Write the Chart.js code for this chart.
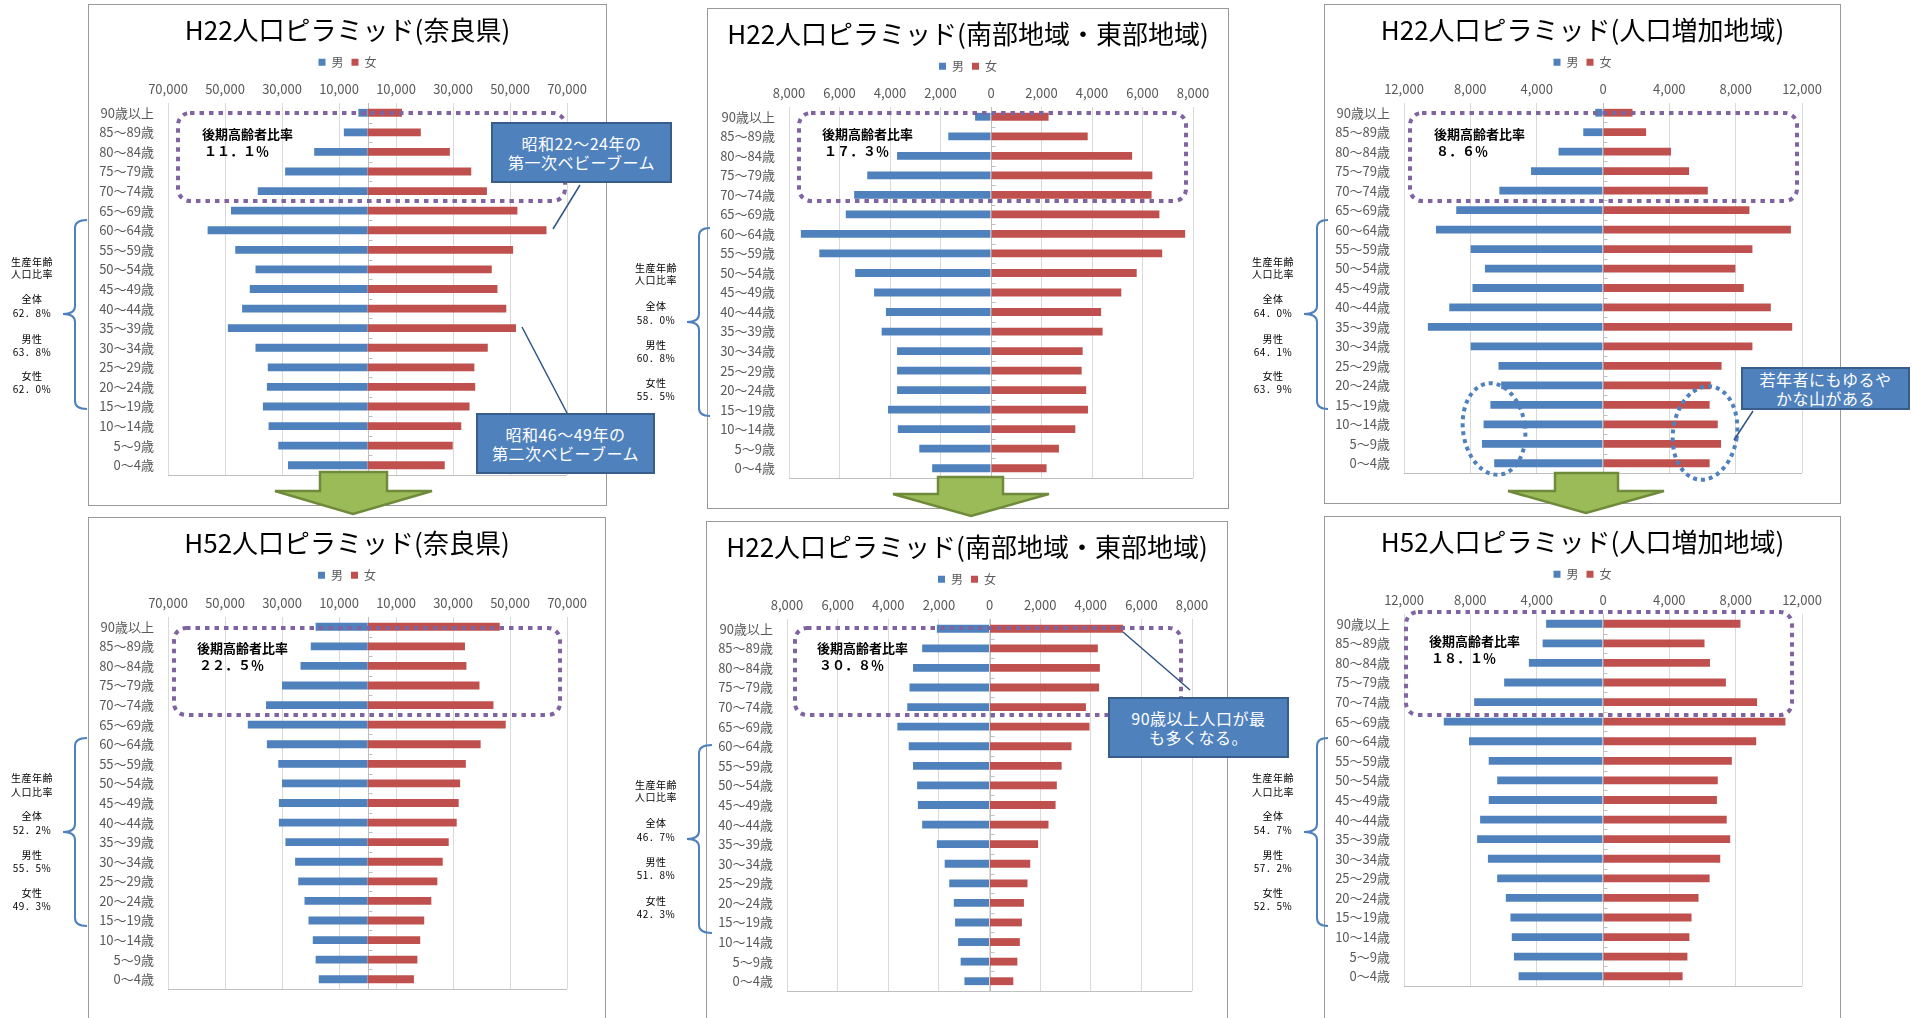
<!DOCTYPE html>
<html>
<head>
<meta charset="utf-8">
<script src="https://cdn.jsdelivr.net/npm/chart.js@4.4.0/dist/chart.umd.min.js"></script>
<style>
  body { margin: 0; width: 1912px; height: 1018px; overflow: hidden; position: relative; background: #fff;
         font-family: "Noto Sans CJK JP", "Noto Sans", sans-serif; }
  .panel { position: absolute; border: 1px solid #9a9a9a; box-sizing: border-box; background: #fff; z-index: 1; }
  .panel canvas { position: absolute; left: 0; top: 0; }
  svg.over { position: absolute; left: 0; top: 0; z-index: 2; }
  .side { position: absolute; transform: translate(-50%, -50%); font-size: 10px; line-height: 12px;
          white-space: nowrap; color: #000; z-index: 3; letter-spacing: 0.5px; }
  .ratio { position: absolute; transform: translateY(-50%); font-size: 13px; font-weight: bold;
           line-height: 16px; white-space: nowrap; color: #000; z-index: 3; }
  .callout { position: absolute; box-sizing: border-box; background: #4f81bd; border: 2px solid #385d8a;
             color: #fff; font-size: 16px; line-height: 19px; text-align: center; z-index: 4;
             display: flex; align-items: center; justify-content: center; letter-spacing: 0.5px; }
</style>
</head>
<body>

<div class="panel" style="left:88px;top:4px;width:519px;height:502px"><canvas id="c1" width="517" height="498"></canvas></div>
<div class="panel" style="left:707px;top:8px;width:522px;height:501px"><canvas id="c2" width="520" height="498"></canvas></div>
<div class="panel" style="left:1324px;top:4px;width:517px;height:500px"><canvas id="c3" width="515" height="498"></canvas></div>
<div class="panel" style="left:88px;top:517px;width:518px;height:530px"><canvas id="c4" width="516" height="498"></canvas></div>
<div class="panel" style="left:706px;top:521px;width:522px;height:530px"><canvas id="c5" width="520" height="498"></canvas></div>
<div class="panel" style="left:1324px;top:516px;width:517px;height:530px"><canvas id="c6" width="515" height="498"></canvas></div>

<svg class="over" width="1912" height="1018">
  <g fill="none" stroke="#8064a2" stroke-width="4" stroke-dasharray="4.5 5">
    <rect x="178" y="113" width="387" height="88" rx="12"/>
    <rect x="799" y="113" width="387" height="88" rx="12"/>
    <rect x="1410" y="113" width="387" height="88" rx="12"/>
    <rect x="174" y="628" width="386" height="87" rx="12"/>
    <rect x="795" y="628" width="386" height="87" rx="12"/>
    <rect x="1406" y="612" width="386" height="103" rx="12"/>
  </g>
  <g fill="none" stroke="#4f81bd" stroke-width="2">
    <path d="M87,220 Q75,220 75,228 L75,306 Q75,314 63,314 Q75,314 75,322 L75,401 Q75,409 87,409"/>
    <path d="M710,228 Q699,228 699,236 L699,314 Q699,322 687,322 Q699,322 699,330 L699,408 Q699,416 710,416"/>
    <path d="M1328,220 Q1317,220 1317,228 L1317,306 Q1317,314 1304,314 Q1317,314 1317,322 L1317,401 Q1317,409 1328,409"/>
    <path d="M87,738 Q75,738 75,746 L75,824 Q75,832 63,832 Q75,832 75,840 L75,918 Q75,926 87,926"/>
    <path d="M712,745 Q699,745 699,753 L699,831 Q699,839 687,839 Q699,839 699,847 L699,925 Q699,933 712,933"/>
    <path d="M1328,738 Q1317,738 1317,746 L1317,824 Q1317,832 1304,832 Q1317,832 1317,840 L1317,918 Q1317,926 1328,926"/>
  </g>
  <g fill="none" stroke="#4f81bd" stroke-width="4" stroke-dasharray="4 4">
    <ellipse cx="1494" cy="429" rx="31" ry="46" transform="rotate(-8 1494 429)"/>
    <ellipse cx="1705" cy="433" rx="32" ry="47" transform="rotate(8 1705 433)"/>
  </g>
  <g stroke="#2f5486" stroke-width="1.5">
    <line x1="580" y1="185" x2="553" y2="229"/>
    <line x1="567" y1="413" x2="522" y2="327"/>
    <line x1="1753" y1="411" x2="1734" y2="440"/>
    <line x1="1123" y1="632" x2="1190" y2="690"/>
  </g>
  <g fill="#9bbb59" stroke="#6f8a3a" stroke-width="2.5" stroke-linejoin="miter">
    <polygon points="320,472 387,472 387,491 432,491 353,514 275,491 320,491"/>
    <polygon points="938,477 1003,477 1003,494 1049,494 971,516 893,494 938,494"/>
    <polygon points="1555,473 1618,473 1618,491 1664,491 1586,513 1508,491 1555,491"/>
  </g>
</svg>

<div class="callout" style="left:491px;top:122px;width:181px;height:61px">昭和22～24年の<br>第一次ベビーブーム</div>
<div class="callout" style="left:476px;top:413px;width:179px;height:61px">昭和46～49年の<br>第二次ベビーブーム</div>
<div class="callout" style="left:1741px;top:367px;width:169px;height:43px">若年者にもゆるや<br>かな山がある</div>
<div class="callout" style="left:1108px;top:697px;width:181px;height:61px">90歳以上人口が最<br>も多くなる。</div>

<script>
// age groups, top to bottom
const ageGroups = ['90歳以上', '85～89歳', '80～84歳', '75～79歳', '70～74歳', '65～69歳', '60～64歳',
  '55～59歳', '50～54歳', '45～49歳', '40～44歳', '35～39歳', '30～34歳', '25～29歳', '20～24歳',
  '15～19歳', '10～14歳', '5～9歳', '0～4歳'];

// H22 奈良県
const naraH22Male = [3200, 8300, 18700, 28900, 38500, 47900, 56100, 46400, 39300, 41300, 44000, 49000, 39300, 35000, 35300, 36700, 34700, 31300, 27900];
const naraH22Female = [12100, 18700, 28900, 36400, 41900, 52600, 62800, 51100, 43600, 45600, 48700, 52100, 42200, 37500, 37800, 35800, 32900, 29900, 27100];
// H22 南部地域・東部地域
const southH22Male = [630, 1690, 3720, 4900, 5420, 5750, 7530, 6800, 5380, 4630, 4160, 4330, 3720, 3720, 3720, 4080, 3690, 2840, 2330];
const southH22Female = [2280, 3830, 5590, 6390, 6360, 6670, 7690, 6780, 5770, 5160, 4360, 4420, 3630, 3590, 3770, 3840, 3340, 2690, 2200];
// H22 人口増加地域
const growthH22Male = [470, 1190, 2680, 4340, 6250, 8850, 10070, 7980, 7120, 7870, 9270, 10560, 7980, 6300, 6140, 6790, 7200, 7300, 6560];
const growthH22Female = [1780, 2600, 4100, 5190, 6320, 8830, 11330, 9010, 7980, 8490, 10120, 11410, 9010, 7150, 6500, 6430, 6920, 7120, 6430];
// H52 奈良県
const naraH52Male = [18200, 19900, 23500, 30000, 35600, 42000, 35300, 31300, 30000, 31100, 31100, 28800, 25400, 24300, 22100, 20700, 19200, 18200, 17100];
const naraH52Female = [46400, 34200, 34700, 39300, 44200, 48500, 39700, 34500, 32500, 32000, 31300, 28500, 26400, 24500, 22400, 19900, 18500, 17500, 16300];
// H52 南部地域・東部地域 (title in source reads H22)
const southH52Male = [2080, 2660, 3020, 3160, 3250, 3640, 3190, 3020, 2860, 2830, 2660, 2080, 1770, 1590, 1410, 1360, 1240, 1140, 990];
const southH52Female = [5280, 4280, 4360, 4330, 3810, 3950, 3240, 2850, 2660, 2610, 2330, 1920, 1610, 1500, 1360, 1280, 1200, 1100, 940];
// H52 人口増加地域
const growthH52Male = [3430, 3640, 4470, 5960, 7770, 9600, 8080, 6890, 6380, 6890, 7410, 7590, 6940, 6380, 5860, 5580, 5500, 5370, 5090];
const growthH52Female = [8290, 6120, 6450, 7410, 9290, 11000, 9240, 7770, 6920, 6870, 7460, 7670, 7070, 6430, 5760, 5340, 5210, 5090, 4800];

// axis ticks
const naraTicks = [-70000, -50000, -30000, -10000, 10000, 30000, 50000, 70000];
const southTicks = [-8000, -6000, -4000, -2000, 0, 2000, 4000, 6000, 8000];
const growthTicks = [-12000, -8000, -4000, 0, 4000, 8000, 12000];

const FONT = '"Noto Sans CJK JP", "Noto Sans", sans-serif';

// vertical axis at zero with small ticks, and the bottom line of the plot
const centerAxis = {
  id: 'centerAxis',
  beforeDatasetsDraw(chart) {
    const {ctx, chartArea: a, scales: {x, y}} = chart;
    const cx = Math.round(x.getPixelForValue(0)) + 0.5;
    ctx.save();
    ctx.strokeStyle = '#bfbfbf';
    ctx.lineWidth = 1;
    ctx.beginPath();
    ctx.moveTo(a.left, Math.round(a.bottom) + 0.5);
    ctx.lineTo(a.right, Math.round(a.bottom) + 0.5);
    ctx.moveTo(cx, a.top);
    ctx.lineTo(cx, a.bottom);
    for (let i = 1; i < chart.data.labels.length; i++) {
      const yy = Math.round(y.getPixelForValue(i - 0.5)) + 0.5;
      ctx.moveTo(cx, yy);
      ctx.lineTo(cx + 4, yy);
    }
    ctx.stroke();
    ctx.restore();
  }
};

function pyramid(id, title, male, female, ticks, box) {
  return new Chart(document.getElementById(id), {
    type: 'bar',
    data: {
      labels: ageGroups,
      datasets: [
        {label: '男', data: male.map(v => -v), backgroundColor: '#4f81bd', categoryPercentage: 0.4, barPercentage: 1},
        {label: '女', data: female, backgroundColor: '#c0504d', categoryPercentage: 0.4, barPercentage: 1}
      ]
    },
    options: {
      indexAxis: 'y',
      responsive: false,
      animation: false,
      layout: {padding: {left: 0, top: 0, right: 0, bottom: box.b}},
      plugins: {
        title: {display: true, text: title, color: '#000', font: {family: FONT, size: 26, weight: 'normal'},
                padding: {top: 10, bottom: 2}},
        legend: {labels: {boxWidth: 7, boxHeight: 7, padding: 8, color: '#595959', font: {family: FONT, size: 12}}},
        tooltip: {enabled: false}
      },
      scales: {
        x: {
          position: 'top', stacked: true, min: ticks[0], max: ticks[ticks.length - 1],
          afterBuildTicks: s => { s.ticks = ticks.map(v => ({value: v})); },
          afterFit: s => {
            const tb = s.chart.titleBlock, lg = s.chart.legend;
            s.height = box.t - (tb ? tb.height : 0) - (lg ? lg.height : 0);
          },
          ticks: {callback: v => Math.abs(v).toLocaleString('en-US'), padding: 6, color: '#595959',
                  font: {family: FONT, size: 13}, maxRotation: 0, autoSkip: false},
          grid: {color: '#d9d9d9', drawTicks: false},
          border: {display: false}
        },
        y: {
          stacked: true,
          afterFit: s => { s.width = box.l; },
          ticks: {padding: 14, color: '#595959', font: {family: FONT, size: 13}, autoSkip: false},
          grid: {display: false, drawTicks: false},
          border: {display: false}
        },
        yr: {
          type: 'category', axis: 'y', position: 'right',
          afterFit: s => { s.width = box.r; },
          ticks: {display: false},
          grid: {display: false, drawTicks: false},
          border: {display: false}
        }
      }
    },
    plugins: [centerAxis]
  });
}

pyramid('c1', 'H22人口ピラミッド(奈良県)', naraH22Male, naraH22Female, naraTicks, {l: 79, t: 98, r: 39, b: 28});
pyramid('c2', 'H22人口ピラミッド(南部地域・東部地域)', southH22Male, southH22Female, southTicks, {l: 81, t: 98, r: 35, b: 29});
pyramid('c3', 'H22人口ピラミッド(人口増加地域)', growthH22Male, growthH22Female, growthTicks, {l: 79, t: 98, r: 38, b: 30});
pyramid('c4', 'H52人口ピラミッド(奈良県)', naraH52Male, naraH52Female, naraTicks, {l: 79, t: 99, r: 38, b: 27});
pyramid('c5', 'H22人口ピラミッド(南部地域・東部地域)', southH52Male, southH52Female, southTicks, {l: 80, t: 97, r: 35, b: 29});
pyramid('c6', 'H52人口ピラミッド(人口増加地域)', growthH52Male, growthH52Female, growthTicks, {l: 79, t: 97, r: 38, b: 29});

// side notes: 生産年齢人口比率
function note(cls, x, y, text) {
  const d = document.createElement('div');
  d.className = cls;
  d.textContent = text;
  d.style.left = x + 'px';
  d.style.top = y + 'px';
  document.body.appendChild(d);
}
const sideLabels = ['生産年齢', '人口比率', '全体', null, '男性', null, '女性', null];
function sideNote(x, ys, values) {
  let k = 0;
  ys.forEach((y, i) => note('side', x, y, sideLabels[i] || values[k++]));
}
sideNote(32, [262, 274, 299, 313, 339, 352, 376, 389], ['62．8%', '63．8%', '62．0%']);
sideNote(656, [268, 280, 306, 320, 345, 358, 383, 396], ['58．0%', '60．8%', '55．5%']);
sideNote(1273, [262, 274, 299, 313, 339, 352, 376, 389], ['64．0%', '64．1%', '63．9%']);
sideNote(32, [778, 792, 816, 830, 855, 868, 893, 906], ['52．2%', '55．5%', '49．3%']);
sideNote(656, [785, 797, 823, 837, 862, 875, 901, 914], ['46．7%', '51．8%', '42．3%']);
sideNote(1273, [778, 792, 816, 830, 855, 868, 893, 906], ['54．7%', '57．2%', '52．5%']);

// 後期高齢者比率
[[202, 134, '１１．１％'], [822, 134, '１７．３％'], [1434, 134, '８．６％'],
 [197, 648, '２２．５％'], [817, 648, '３０．８％'], [1429, 641, '１８．１％']].forEach(([x, y, v]) => {
  note('ratio', x, y, '後期高齢者比率');
  note('ratio', x + 2, y + 17, v);
});
</script>
</body>
</html>
